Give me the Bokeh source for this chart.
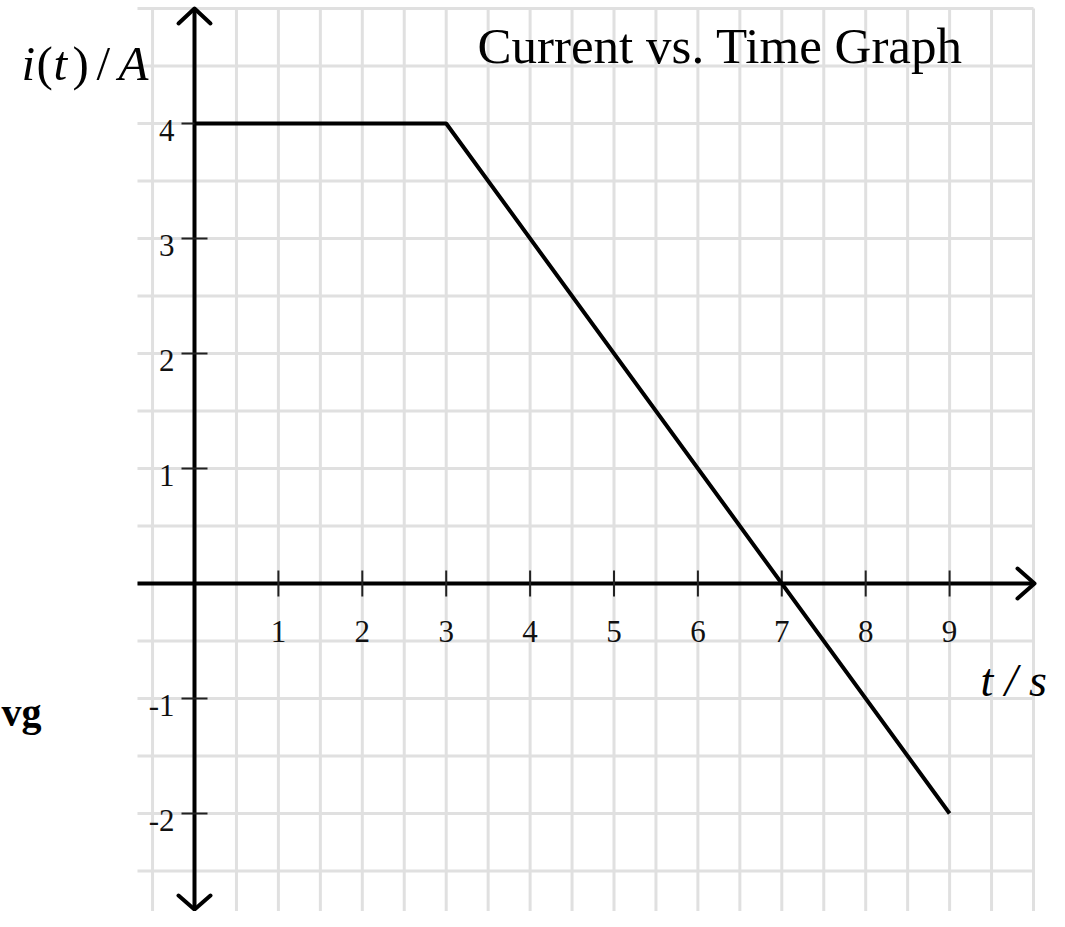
import numpy as np
from bokeh.plotting import figure
from bokeh.models import Range1d
from bokeh.core.properties import value
from bokeh.embed import file_html
from bokeh.resources import INLINE

# ---- data ----
t_values = [0, 3, 9]
i_values = [4, 4, -2]
x_ticks = [1, 2, 3, 4, 5, 6, 7, 8, 9]
x_tick_labels = ["1", "2", "3", "4", "5", "6", "7", "8", "9"]
y_ticks = [4, 3, 2, 1, -1, -2]
y_tick_labels = ["4", "3", "2", "1", "-1", "-2"]
title_text = "Current vs. Time Graph"
x_label = "t / s"

# ---- layout / scale ----
W, H = 1049, 911
PX_X = 83.9    # px per unit in x
PX_Y = 115.0   # px per unit in y
X0_PX = 194    # canvas px of t=0
Y0_PX = 583    # canvas px of i=0 (from top)

def RX(px):  # canvas px -> data x
    return (px - X0_PX) / PX_X

def RY(py):  # canvas px (from top) -> data y
    return (Y0_PX - py) / PX_Y

x_start, x_end = RX(0), RX(W)
y_start, y_end = RY(H), RY(0)

p = figure(width=W, height=H, x_range=Range1d(x_start, x_end), y_range=Range1d(y_start, y_end),
           output_backend="svg", toolbar_location=None, min_border=0)
p.axis.visible = False
p.grid.visible = False
p.outline_line_color = None
p.background_fill_color = "white"
p.border_fill_color = "white"

# ---- grid ----
grid_color = "#e0e0e0"
gx = np.arange(-0.5, 10.001, 0.5)
gy = np.arange(-3.0, 5.001, 0.5)
grid_left = RX(137)
p.segment(x0=gx, y0=[5.0] * len(gx), x1=gx, y1=[y_start - 1] * len(gx),
          line_color=grid_color, line_width=3)
p.segment(x0=[grid_left] * len(gy), y0=gy, x1=[10.0] * len(gy), y1=gy,
          line_color=grid_color, line_width=3)

# ---- axes ----
ax_color = "black"
y_top, y_bot = RY(8), RY(909)
x_left, x_right = grid_left, RX(1034)
p.segment(x0=[x_left], y0=[0], x1=[x_right], y1=[0], line_color=ax_color, line_width=4)
p.segment(x0=[0], y0=[y_bot], x1=[0], y1=[y_top], line_color=ax_color, line_width=4)

# arrow chevrons
dx = lambda px: px / PX_X
dy = lambda px: px / PX_Y
p.multi_line(
    xs=[[-dx(16), 0, dx(16)], [x_right - dx(17), x_right, x_right - dx(17)], [-dx(16), 0, dx(16)]],
    ys=[[y_top - dy(15), y_top, y_top - dy(15)], [dy(15), 0, -dy(15)], [y_bot + dy(14), y_bot, y_bot + dy(14)]],
    line_color=ax_color, line_width=4, line_join="round", line_cap="round")

# ticks
tick_color = "#222222"
p.segment(x0=x_ticks, y0=[-dy(13)] * len(x_ticks), x1=x_ticks, y1=[dy(13)] * len(x_ticks),
          line_color=tick_color, line_width=2)
p.segment(x0=[-dx(13)] * len(y_ticks), y0=y_ticks, x1=[dx(13)] * len(y_ticks), y1=y_ticks,
          line_color=tick_color, line_width=2)

# tick labels
tick_font = value("Liberation Serif")
p.text(x=x_ticks, y=[0] * len(x_ticks), text=x_tick_labels, text_align="center",
       text_baseline="middle", y_offset=48, text_font=tick_font, text_font_size="31px",
       text_color="#111111")
p.text(x=[RX(174)] * len(y_ticks), y=y_ticks, text=y_tick_labels, text_align="right",
       text_baseline="middle", y_offset=7, text_font=tick_font, text_font_size="31px",
       text_color="#111111")

# ---- data line ----
p.line(t_values, i_values, line_color="black", line_width=4)

# ---- texts ----
serif = value("Liberation Serif")
p.text(x=[RX(477)], y=[RY(45)], text=[title_text], text_align="left", text_baseline="middle",
       text_font=serif, text_font_size="51px", text_color="black")

# y label i(t) / A built from pieces
pieces = ["i", "(", "t", ")", "/", "A"]
piece_px = [21, 36, 53, 72, 96, 118]
piece_style = ["italic", "normal", "italic", "normal", "normal", "italic"]
for s, px, st in zip(pieces, piece_px, piece_style):
    p.text(x=[RX(px)], y=[RY(63)], text=[s], text_align="left", text_baseline="middle",
           text_font=serif, text_font_size="49px", text_font_style=st, text_color="black")

p.text(x=[RX(980)], y=[RY(680)], text=[x_label], text_align="left", text_baseline="middle",
       text_font=serif, text_font_size="46px", text_font_style="italic", text_color="black")

# stray label at left edge
p.text(x=[RX(1)], y=[RY(712)], text=["vg"], text_align="left", text_baseline="middle",
       text_font=serif, text_font_size="40px", text_font_style="bold", text_color="black")

open("out.html", "w").write(file_html(p, INLINE))
